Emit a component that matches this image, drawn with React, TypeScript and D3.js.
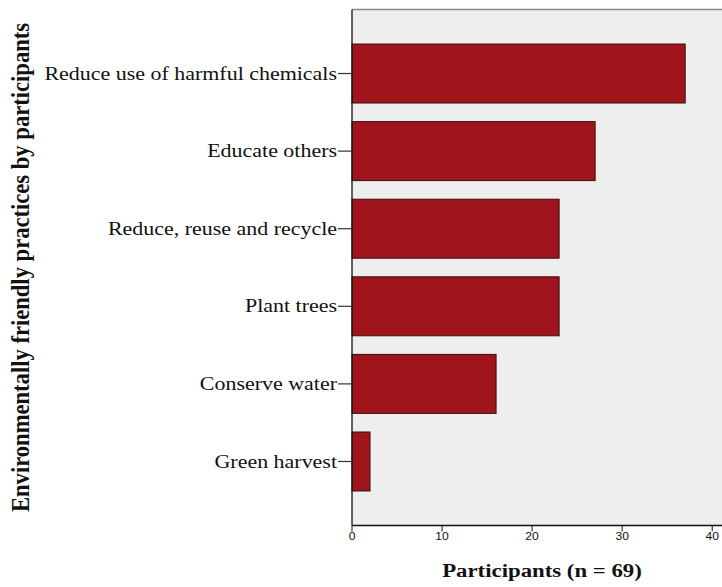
import React from "react";
import * as d3 from "d3";

const categories = [
  "Reduce use of harmful chemicals",
  "Educate others",
  "Reduce, reuse and recycle",
  "Plant trees",
  "Conserve water",
  "Green harvest",
];
const participants = [37, 27, 23, 23, 16, 2];
const xTicks = [0, 10, 20, 30, 40];
const xMax = 42.2;
const xTitle = "Participants (n = 69)";
const yTitle = "Environmentally friendly practices by participants";

const W = 722;
const H = 587;
const M = { left: 352, top: 9.5, right: 732, bottom: 525.5 };
const SX = 1.2;

export default function App() {
  const x = d3.scaleLinear().domain([0, xMax]).range([M.left, M.right]);
  const y = d3
    .scaleBand<string>()
    .domain(categories)
    .range([M.top, M.bottom])
    .paddingInner(0.24)
    .paddingOuter(0.445);

  return (
    <svg
      width={W}
      height={H}
      style={{ position: "absolute", left: 0, top: 0, background: "#fff" }}
    >
      <rect
        x={M.left}
        y={M.top}
        width={M.right - M.left}
        height={M.bottom - M.top}
        fill="#eeeeee"
      />
      <line x1={M.left} x2={M.right} y1={M.top} y2={M.top} stroke="#8a8a8a" strokeWidth={1.5} />
      {categories.map((c, i) => (
        <rect
          key={c}
          x={x(0)}
          y={y(c)!}
          width={x(participants[i]) - x(0)}
          height={y.bandwidth()}
          fill="#a0151b"
          stroke="#3a0d0e"
          strokeWidth={1}
        />
      ))}
      <line x1={M.left} x2={M.left} y1={M.top} y2={M.bottom} stroke="#111" strokeWidth={1.3} />
      <line x1={M.left} x2={M.right} y1={M.bottom} y2={M.bottom} stroke="#111" strokeWidth={1.3} />
      {categories.map((c) => {
        const cy = y(c)! + y.bandwidth() / 2;
        return (
          <g key={c}>
            <line x1={M.left - 14} x2={M.left} y1={cy} y2={cy} stroke="#333" strokeWidth={1.2} />
            <g transform={`translate(${M.left - 15},${cy}) scale(${SX},1)`}>
              <text
                textAnchor="end"
                dy="0.33em"
                fontFamily="'Liberation Serif', 'Times New Roman', serif"
                fontSize={18.3}
                fill="#111"
              >
                {c}
              </text>
            </g>
          </g>
        );
      })}
      {xTicks.map((t) => (
        <g key={t}>
          <line x1={x(t)} x2={x(t)} y1={M.bottom} y2={M.bottom + 6} stroke="#111" strokeWidth={1} />
          <g transform={`translate(${x(t)},${M.bottom + 14.5}) scale(1.1,1)`}>
            <text
              textAnchor="middle"
              fontFamily="'Liberation Sans', Arial, sans-serif"
              fontSize={11}
              fill="#111"
            >
              {t}
            </text>
          </g>
        </g>
      ))}
      <g transform={`translate(${(M.left + M.right) / 2},${577}) scale(${SX},1)`}>
        <text
          textAnchor="middle"
          fontFamily="'Liberation Serif', 'Times New Roman', serif"
          fontWeight="bold"
          fontSize={19}
          fill="#111"
        >
          {xTitle}
        </text>
      </g>
      <g transform={`translate(${29},${(M.top + M.bottom) / 2}) scale(1.1,1) rotate(-90)`}>
        <text
          textAnchor="middle"
          fontFamily="'Liberation Serif', 'Times New Roman', serif"
          fontWeight="bold"
          fontSize={22.6}
          fill="#111"
        >
          {yTitle}
        </text>
      </g>
    </svg>
  );
}
